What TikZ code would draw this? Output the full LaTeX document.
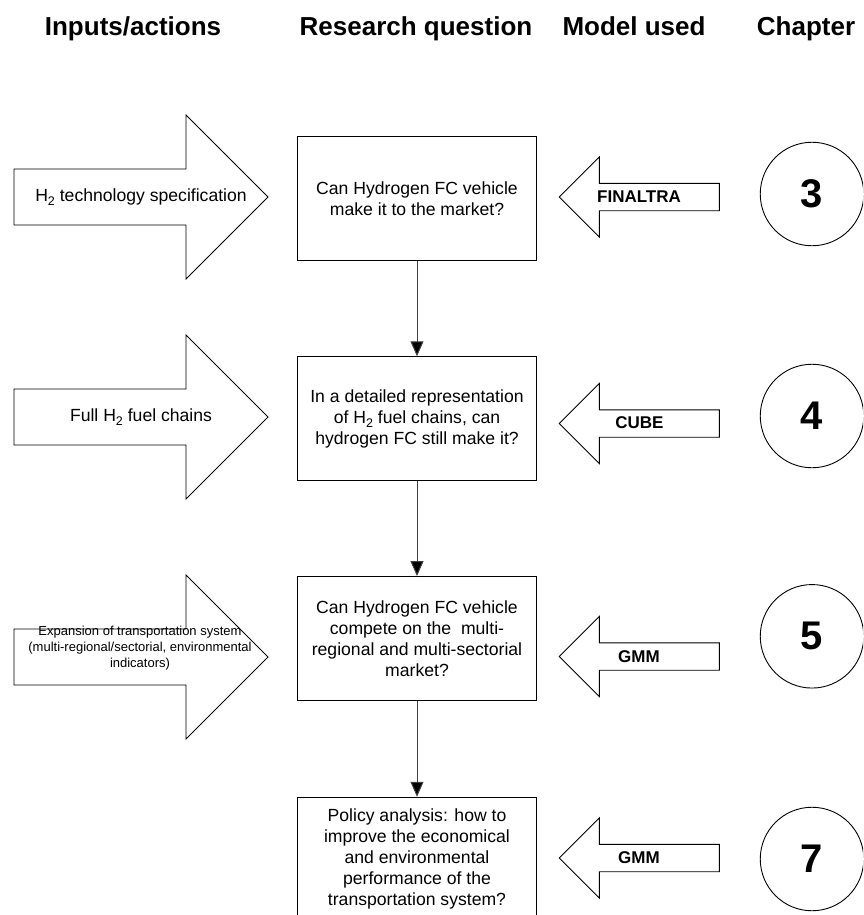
\documentclass[tikz,border=0pt]{standalone}
\usepackage{fontspec}
\setmainfont{Liberation Sans}
\usetikzlibrary{arrows.meta}
\newcommand{\hsubtwo}{\raisebox{-4.5pt}{\fontsize{12.5}{12.5}\selectfont 2}}
\begin{document}
\begin{tikzpicture}[x=1pt,y=-1pt,
  qbox/.style={draw, line width=1pt, minimum width=239pt, minimum height=123.5pt, align=center, font=\fontsize{17.6}{21}\selectfont, inner sep=0pt},
  bigarrow/.style={draw, line width=0.9pt, fill=white},
  hdr/.style={font=\fontsize{26}{31}\selectfont\bfseries, anchor=base, inner sep=0pt},
  mdl/.style={font=\fontsize{17}{20}\selectfont\bfseries, inner sep=0pt},
  intext/.style={align=center, inner sep=0pt, font=\fontsize{17.6}{21}\selectfont},
  chap/.style={draw, circle, line width=0.9pt, minimum size=103.5pt, inner sep=0pt, font=\fontsize{40}{48}\selectfont\bfseries},
  link/.style={draw=black!75, line width=1pt, -{Triangle[length=15pt,width=13pt,fill=black]}}
]
\useasboundingbox (0,0) rectangle (863,915);
\clip (0,0) rectangle (863,915);
\fill[white] (0,0) rectangle (863,915);

% headers
\node[hdr] (h1) at (133,36) {Inputs/actions};
\node[hdr] (h2) at (416,36) {Research question};
\node[hdr] (h3) at (634,36) {Model used};
\node[hdr] (h4) at (806,36) {Chapter};

% left input arrows
\foreach \c in {197,417,657}{
  \draw[bigarrow] (14,{\c-28}) -- (186,{\c-28}) -- (186,{\c-82}) -- (268,\c)
    -- (186,{\c+82}) -- (186,{\c+28}) -- (14,{\c+28}) -- cycle;
}
\node[intext] (in1) at (141,197) {H\hsubtwo{} technology specification};
\node[intext] (in2) at (141,417) {Full H\hsubtwo{} fuel chains};
\node[intext, font=\fontsize{13}{16.2}\selectfont] (in3) at (140,648)
  {Expansion of transportation system\\(multi-regional/sectorial, environmental\\indicators)};

% research question boxes
\node[qbox] (q1) at (417,198.5) {Can Hydrogen FC vehicle\\make it to the market?};
\node[qbox] (q2) at (417,418.5) {In a detailed representation\\of H\hsubtwo{} fuel chains, can\\hydrogen FC still make it?};
\node[qbox] (q3) at (417,638.3) {Can Hydrogen FC vehicle\\compete on the~ multi-\\regional and multi-sectorial\\market?};
\node[qbox] (q4) at (417,859) {Policy analysis: how to\\improve the economical\\and environmental\\performance of the\\transportation system?};

\draw[link] (q1.south) -- (q2.north);
\draw[link] (q2.south) -- (q3.north);
\draw[link] (q3.south) -- (q4.north);

% model arrows
\foreach \c in {197,423.5,656.5,858}{
  \draw[bigarrow] (559.3,\c) -- (599.3,{\c-40}) -- (599.3,{\c-13.7}) -- (719.3,{\c-13.7})
    -- (719.3,{\c+13.7}) -- (599.3,{\c+13.7}) -- (599.3,{\c+40}) -- cycle;
}
\node[mdl] (m1) at (639,197) {FINALTRA};
\node[mdl] (m2) at (639.5,423) {CUBE};
\node[mdl] (m3) at (639,656.5) {GMM};
\node[mdl] (m4) at (639,858) {GMM};

% chapter circles
\node[chap] (c1) at (812,194) {3};
\node[chap] (c2) at (812,416) {4};
\node[chap] (c3) at (812,636.3) {5};
\node[chap] (c4) at (812,859) {7};
\end{tikzpicture}
\end{document}
